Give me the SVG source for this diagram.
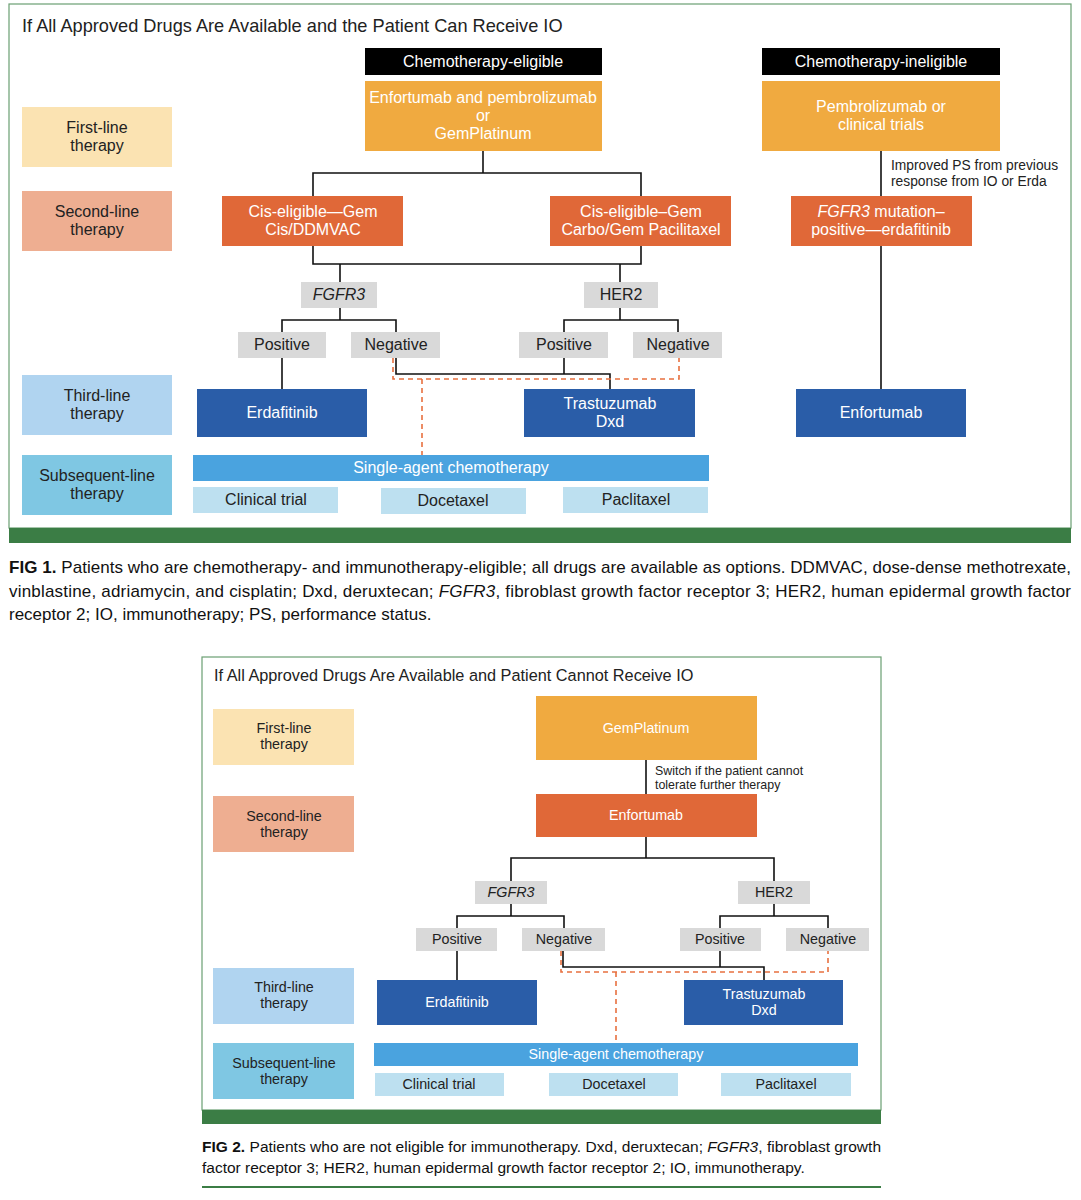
<svg xmlns="http://www.w3.org/2000/svg" width="1081" height="1200" viewBox="0 0 1081 1200">
<style>
text{font-family:"Liberation Sans",Arial,sans-serif;}
.w{fill:#fff;}
.d{fill:#222;}
.c{text-anchor:middle;}
.n1{font-size:16px;}
.n2{font-size:14.3px;}
.ln{fill:none;stroke:#111;stroke-width:1.6;}
.ds{fill:none;stroke:#e8703f;stroke-width:1.6;stroke-dasharray:5,4;}
.first{fill:#fbe3b2;}
.second{fill:#eeae91;}
.third{fill:#b0d4f0;}
.subs{fill:#7fc7e3;}
.hdr{fill:#000;}
.org{fill:#f0aa40;}
.red{fill:#e06838;}
.blu{fill:#2a5da8;}
.sac{fill:#4aa3df;}
.opt{fill:#bde0f0;}
.gry{fill:#d9d9d9;}
.frame{fill:none;stroke:#6a9f72;stroke-width:1.2;}
.bar{fill:#3b7d45;}
.cap{font-size:17px;fill:#111;}
.cap2{font-size:15.5px;fill:#111;}
</style>
<rect width="1081" height="1200" fill="#fff"/>

<!-- FIGURE 1 -->
<g id="fig1-frame">
<rect class="frame" x="9" y="4" width="1062" height="524"/>
<rect class="bar" x="9" y="528" width="1062" height="15"/>
<text x="22" y="32" font-size="18.2" class="d">If All Approved Drugs Are Available and the Patient Can Receive IO</text>
</g>

<g id="connectors-fig1">
<polyline class="ln" points="483,151 483,173"/>
<polyline class="ln" points="313,196 313,173 641,173 641,196"/>
<polyline class="ln" points="881,151 881,196"/>
<polyline class="ln" points="881,246 881,389"/>
<polyline class="ln" points="313,246 313,264 641,264 641,246"/>
<polyline class="ln" points="340,264 340,282"/>
<polyline class="ln" points="620,264 620,282"/>
<polyline class="ln" points="282,332 282,320 396,320 396,332"/>
<polyline class="ln" points="340,308 340,320"/>
<polyline class="ln" points="564,332 564,320 678,320 678,332"/>
<polyline class="ln" points="620,308 620,320"/>
<polyline class="ln" points="282,358 282,389"/>
<polyline class="ln" points="396,358 396,374 610,374 610,389"/>
<polyline class="ln" points="564,358 564,374"/>
<polyline class="ds" points="393,358 393,379 679,379 679,358"/>
<polyline class="ds" points="422,379 422,455"/>
<text x="891" y="170" font-size="13.8" class="d">Improved PS from previous</text>
<text x="891" y="186" font-size="13.8" class="d">response from IO or Erda</text>
</g>

<g id="f1-first-line"><rect class="first" x="22" y="107" width="150" height="60"/>
<text class="d c n1" x="97" y="133">First-line</text><text class="d c n1" x="97" y="151">therapy</text></g>
<g id="f1-second-line"><rect class="second" x="22" y="191" width="150" height="60"/>
<text class="d c n1" x="97" y="217">Second-line</text><text class="d c n1" x="97" y="235">therapy</text></g>
<g id="f1-third-line"><rect class="third" x="22" y="375" width="150" height="60"/>
<text class="d c n1" x="97" y="401">Third-line</text><text class="d c n1" x="97" y="419">therapy</text></g>
<g id="f1-subsequent-line"><rect class="subs" x="22" y="455" width="150" height="60"/>
<text class="d c n1" x="97" y="481">Subsequent-line</text><text class="d c n1" x="97" y="499">therapy</text></g>

<g id="f1-chemo-eligible"><rect class="hdr" x="365" y="48" width="237" height="27"/>
<text class="w c n1" x="483" y="67">Chemotherapy-eligible</text></g>
<g id="f1-ev-pembro"><rect class="org" x="365" y="81" width="237" height="70"/>
<text class="w c n1" x="483" y="103">Enfortumab and pembrolizumab</text>
<text class="w c n1" x="483" y="121">or</text>
<text class="w c n1" x="483" y="139">GemPlatinum</text></g>
<g id="f1-chemo-ineligible"><rect class="hdr" x="762" y="48" width="238" height="27"/>
<text class="w c n1" x="881" y="67">Chemotherapy-ineligible</text></g>
<g id="f1-pembro"><rect class="org" x="762" y="81" width="238" height="70"/>
<text class="w c n1" x="881" y="112">Pembrolizumab or</text>
<text class="w c n1" x="881" y="130">clinical trials</text></g>

<g id="f1-cis-eligible"><rect class="red" x="222" y="196" width="181" height="50"/>
<text class="w c n1" x="313" y="217">Cis-eligible—Gem</text>
<text class="w c n1" x="313" y="235">Cis/DDMVAC</text></g>
<g id="f1-carbo"><rect class="red" x="550" y="196" width="181" height="50"/>
<text class="w c n1" x="641" y="217">Cis-eligible–Gem</text>
<text class="w c n1" x="641" y="235">Carbo/Gem Pacilitaxel</text></g>
<g id="f1-fgfr3-mut"><rect class="red" x="791" y="196" width="181" height="50"/>
<text class="w c n1" x="881" y="217"><tspan font-style="italic">FGFR3</tspan> mutation–</text>
<text class="w c n1" x="881" y="235">positive—erdafitinib</text></g>

<g id="f1-fgfr3"><rect class="gry" x="301" y="282" width="76" height="26"/>
<text class="d c n1" x="339" y="300" font-style="italic">FGFR3</text></g>
<g id="f1-her2"><rect class="gry" x="584" y="282" width="74" height="26"/>
<text class="d c n1" x="621" y="300">HER2</text></g>
<g id="f1-fgfr3-pos"><rect class="gry" x="238" y="332" width="88" height="26"/>
<text class="d c n1" x="282" y="350">Positive</text></g>
<g id="f1-fgfr3-neg"><rect class="gry" x="351" y="332" width="89" height="26"/>
<text class="d c n1" x="396" y="350">Negative</text></g>
<g id="f1-her2-pos"><rect class="gry" x="519" y="332" width="89" height="26"/>
<text class="d c n1" x="564" y="350">Positive</text></g>
<g id="f1-her2-neg"><rect class="gry" x="633" y="332" width="89" height="26"/>
<text class="d c n1" x="678" y="350">Negative</text></g>

<g id="f1-erdafitinib"><rect class="blu" x="197" y="389" width="170" height="48"/>
<text class="w c n1" x="282" y="418">Erdafitinib</text></g>
<g id="f1-tdxd"><rect class="blu" x="524" y="389" width="171" height="48"/>
<text class="w c n1" x="610" y="409">Trastuzumab</text>
<text class="w c n1" x="610" y="427">Dxd</text></g>
<g id="f1-enfortumab"><rect class="blu" x="796" y="389" width="170" height="48"/>
<text class="w c n1" x="881" y="418">Enfortumab</text></g>

<g id="f1-single-agent"><rect class="sac" x="193" y="455" width="516" height="26"/>
<text class="w c n1" x="451" y="473">Single-agent chemotherapy</text></g>
<g id="f1-clinical-trial"><rect class="opt" x="193" y="487" width="145" height="26"/>
<text class="d c n1" x="266" y="505">Clinical trial</text></g>
<g id="f1-docetaxel"><rect class="opt" x="381" y="488" width="145" height="26"/>
<text class="d c n1" x="453" y="506">Docetaxel</text></g>
<g id="f1-paclitaxel"><rect class="opt" x="563" y="487" width="145" height="26"/>
<text class="d c n1" x="636" y="505">Paclitaxel</text></g>

<g id="caption1">
<text class="cap" x="9" y="573" textLength="1062" lengthAdjust="spacing"><tspan font-weight="bold">FIG 1.</tspan>  Patients who are chemotherapy- and immunotherapy-eligible; all drugs are available as options. DDMVAC, dose-dense methotrexate,</text>
<text class="cap" x="9" y="597" textLength="1062" lengthAdjust="spacing">vinblastine, adriamycin, and cisplatin; Dxd, deruxtecan; <tspan font-style="italic">FGFR3</tspan>, fibroblast growth factor receptor 3; HER2, human epidermal growth factor</text>
<text class="cap" x="9" y="620">receptor 2; IO, immunotherapy; PS, performance status.</text>
</g>

<!-- FIGURE 2 -->
<g id="fig2-frame">
<rect class="frame" x="202" y="657" width="679" height="453"/>
<rect class="bar" x="202" y="1110" width="679" height="14"/>
<text x="214" y="681" font-size="16.3" class="d">If All Approved Drugs Are Available and Patient Cannot Receive IO</text>
</g>

<g id="connectors-fig2">
<polyline class="ln" points="646,760 646,794"/>
<polyline class="ln" points="646,837 646,858"/>
<polyline class="ln" points="511,881 511,858 774,858 774,881"/>
<polyline class="ln" points="457,928 457,916 564,916 564,928"/>
<polyline class="ln" points="511,904 511,916"/>
<polyline class="ln" points="720,928 720,916 828,916 828,928"/>
<polyline class="ln" points="774,904 774,916"/>
<polyline class="ln" points="457,951 457,980"/>
<polyline class="ln" points="563,951 563,967 764,967 764,980"/>
<polyline class="ln" points="720,951 720,967"/>
<polyline class="ds" points="561,951 561,972 828,972 828,951"/>
<polyline class="ds" points="616,972 616,1043"/>
<text x="655" y="775" font-size="12.4" class="d">Switch if the patient cannot</text>
<text x="655" y="789" font-size="12.4" class="d">tolerate further therapy</text>
</g>

<g id="f2-first-line"><rect class="first" x="213" y="709" width="141" height="56"/>
<text class="d c n2" x="284" y="733">First-line</text><text class="d c n2" x="284" y="749">therapy</text></g>
<g id="f2-second-line"><rect class="second" x="213" y="796" width="141" height="56"/>
<text class="d c n2" x="284" y="821">Second-line</text><text class="d c n2" x="284" y="837">therapy</text></g>
<g id="f2-third-line"><rect class="third" x="213" y="968" width="141" height="56"/>
<text class="d c n2" x="284" y="992">Third-line</text><text class="d c n2" x="284" y="1008">therapy</text></g>
<g id="f2-subsequent-line"><rect class="subs" x="213" y="1043" width="141" height="56"/>
<text class="d c n2" x="284" y="1068">Subsequent-line</text><text class="d c n2" x="284" y="1084">therapy</text></g>

<g id="f2-gemplatinum"><rect class="org" x="536" y="696" width="221" height="64"/>
<text class="w c n2" x="646" y="733">GemPlatinum</text></g>
<g id="f2-enfortumab"><rect class="red" x="536" y="794" width="221" height="43"/>
<text class="w c n2" x="646" y="820">Enfortumab</text></g>

<g id="f2-fgfr3"><rect class="gry" x="475" y="881" width="72" height="23"/>
<text class="d c n2" x="511" y="897" font-style="italic">FGFR3</text></g>
<g id="f2-her2"><rect class="gry" x="738" y="881" width="72" height="23"/>
<text class="d c n2" x="774" y="897">HER2</text></g>
<g id="f2-fgfr3-pos"><rect class="gry" x="416" y="928" width="81" height="23"/>
<text class="d c n2" x="457" y="944">Positive</text></g>
<g id="f2-fgfr3-neg"><rect class="gry" x="522" y="928" width="83" height="23"/>
<text class="d c n2" x="564" y="944">Negative</text></g>
<g id="f2-her2-pos"><rect class="gry" x="680" y="928" width="81" height="23"/>
<text class="d c n2" x="720" y="944">Positive</text></g>
<g id="f2-her2-neg"><rect class="gry" x="786" y="928" width="83" height="23"/>
<text class="d c n2" x="828" y="944">Negative</text></g>

<g id="f2-erdafitinib"><rect class="blu" x="377" y="980" width="160" height="45"/>
<text class="w c n2" x="457" y="1007">Erdafitinib</text></g>
<g id="f2-tdxd"><rect class="blu" x="684" y="980" width="159" height="45"/>
<text class="w c n2" x="764" y="999">Trastuzumab</text>
<text class="w c n2" x="764" y="1015">Dxd</text></g>

<g id="f2-single-agent"><rect class="sac" x="374" y="1043" width="484" height="23"/>
<text class="w c n2" x="616" y="1059">Single-agent chemotherapy</text></g>
<g id="f2-clinical-trial"><rect class="opt" x="375" y="1073" width="129" height="23"/>
<text class="d c n2" x="439" y="1089">Clinical trial</text></g>
<g id="f2-docetaxel"><rect class="opt" x="549" y="1073" width="129" height="23"/>
<text class="d c n2" x="614" y="1089">Docetaxel</text></g>
<g id="f2-paclitaxel"><rect class="opt" x="721" y="1073" width="130" height="23"/>
<text class="d c n2" x="786" y="1089">Paclitaxel</text></g>

<g id="caption2">
<text class="cap2" x="202" y="1152" textLength="679" lengthAdjust="spacing"><tspan font-weight="bold">FIG 2.</tspan> Patients who are not eligible for immunotherapy. Dxd, deruxtecan; <tspan font-style="italic">FGFR3</tspan>, fibroblast growth</text>
<text class="cap2" x="202" y="1173">factor receptor 3; HER2, human epidermal growth factor receptor 2; IO, immunotherapy.</text>
<rect class="bar" x="202" y="1186" width="679" height="2"/>
</g>
</svg>
